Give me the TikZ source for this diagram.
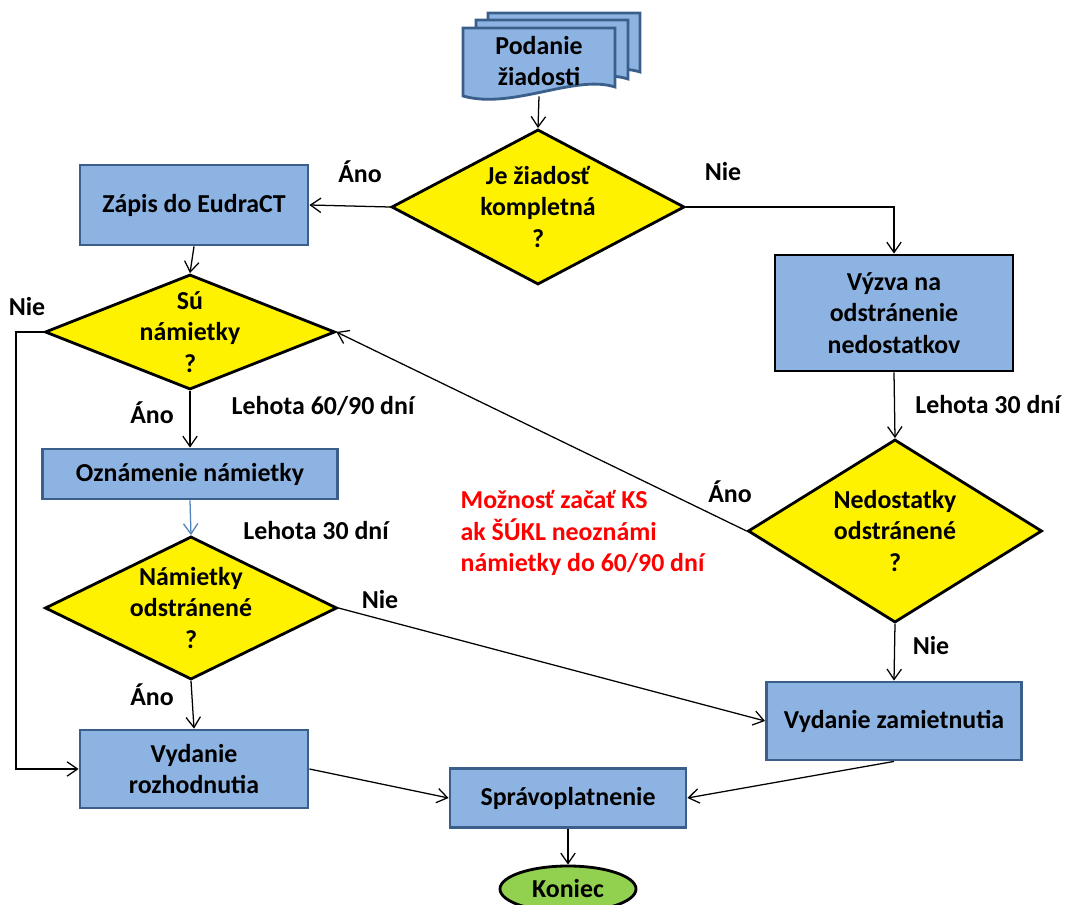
\documentclass[tikz,border=0pt]{standalone}
\usepackage{fontspec}
\setmainfont{Carlito}
\usepackage{tikz}
\usetikzlibrary{arrows.meta,positioning,shapes.geometric}

\definecolor{boxblue}{HTML}{8DB3E2}
\definecolor{boxedge}{HTML}{3A5F8B}
\definecolor{endgreen}{HTML}{92D050}
\definecolor{arrowblue}{HTML}{4F81BD}

\begin{document}
\begin{tikzpicture}[
  x=0.025cm, y=-0.025cm,
  every node/.style={font=\fontsize{18.4}{22.5}\selectfont\bfseries},
  box/.style={draw=boxedge, fill=boxblue, line width=2pt, align=center,
    inner sep=2pt},
  dia/.style={draw, fill=yellow, diamond, line width=2pt, inner sep=0pt},
  dtext/.style={align=center, inner sep=0pt},
  doc/.style={draw=boxedge, fill=boxblue, line width=2pt},
  lbl/.style={inner sep=1pt},
  arrow/.style={-{Straight Barb[length=2.6mm,width=3.6mm]}, line width=0.9pt}
]
\useasboundingbox (0,0) rectangle (1067,905);

\foreach \dx/\dy in {25/-15, 13/-8, 0/0}
  \draw[doc, shift={(\dx,\dy)}] (463,28) -- (615,28) -- (615,87)
    .. controls (575,74) and (512,110) .. (463,96) -- cycle;
\node[align=center, minimum height=1.75cm, inner sep=0pt] (podanie) at (539,61) {Podanie\\žiadosti};

\node[dia, minimum width=7.325cm, minimum height=3.875cm,
  label={[dtext]center:Je žiadosť\\kompletná\\?}] (komp) at (538,207) {};
\node[box, minimum width=5.7cm, minimum height=2cm] (zapis) at (194,205) {Zápis do EudraCT};
\node[box, draw=black, minimum width=5.95cm, minimum height=2.9cm] (vyzva) at (894,313) {Výzva na\\odstránenie\\nedostatkov};
\node[dia, minimum width=7.25cm, minimum height=2.875cm,
  label={[dtext]center:Sú\\námietky\\?}] (sunam) at (190,332) {};
\node[box, minimum width=7.375cm, minimum height=1.25cm] (oznam) at (190,474) {Oznámenie námietky};
\node[dia, minimum width=7.35cm, minimum height=4.575cm,
  label={[dtext]center:Nedostatky\\odstránené\\?}] (nedost) at (895,531) {};
\node[dia, minimum width=7.3cm, minimum height=3.575cm,
  label={[dtext]center:Námietky\\odstránené\\?}] (namodst) at (191,608) {};
\node[box, minimum width=6.375cm, minimum height=1.95cm] (zamiet) at (894,721) {Vydanie zamietnutia};
\node[box, minimum width=5.7cm, minimum height=1.95cm] (rozhod) at (194,769) {Vydanie\\rozhodnutia};
\node[box, minimum width=5.9cm, minimum height=1.475cm] (sprav) at (568,798) {Správoplatnenie};
\node[draw, fill=endgreen, ellipse, line width=2pt, minimum width=3.4cm, minimum height=1.15cm] (koniec) at (568,889) {Koniec};

\node[lbl] (anoKomp) at (360,172) {Áno};
\node[lbl] (nieKomp) at (723,172) {Nie};
\node[lbl] (nieNam) at (27,307) {Nie};
\node[lbl] (anoNam) at (152,413) {Áno};
\node[lbl] (leh6090) at (323,406) {Lehota 60/90 dní};
\node[lbl] (lehVyzva) at (988,405) {Lehota 30 dní};
\node[lbl] (anoNedost) at (730,492) {Áno};
\node[lbl] (lehOznam) at (316,531) {Lehota 30 dní};
\node[lbl] (nieOdst) at (380,600) {Nie};
\node[lbl] (nieNedost) at (931,646) {Nie};
\node[lbl] (anoOdst) at (152,695) {Áno};
\node[lbl, text=red, align=left, anchor=west] (moznost) at (459,533) {Možnosť začať KS\\ak ŠÚKL neoznámi\\námietky do 60/90 dní};

\coordinate (nieLoop) at (16,332);

\draw[arrow] (podanie.south) -- (komp.north);
\draw[arrow] (komp.west) -- (zapis.east);
\draw[arrow] (komp.east) -| (vyzva.north);
\draw[arrow] (zapis.south) -- (sunam.north);
\draw[arrow] (vyzva.south) -- (nedost.north);
\draw[arrow] (nedost.west) -- (sunam.east);
\draw[arrow] (sunam.south) -- (oznam.north);
\draw[arrow, draw=arrowblue] (oznam.south) -- (namodst.north);
\draw[arrow] (sunam.west) -- (nieLoop) |- (rozhod.west);
\draw[arrow] (namodst.south) -- (rozhod.north);
\draw[arrow] (namodst.east) -- (zamiet.west);
\draw[arrow] (nedost.south) -- (zamiet.north);
\draw[arrow] (rozhod.east) -- (sprav.west);
\draw[arrow] (zamiet.south) -- (sprav.east);
\draw[arrow] (sprav.south) -- (koniec.north);
\end{tikzpicture}
\end{document}
